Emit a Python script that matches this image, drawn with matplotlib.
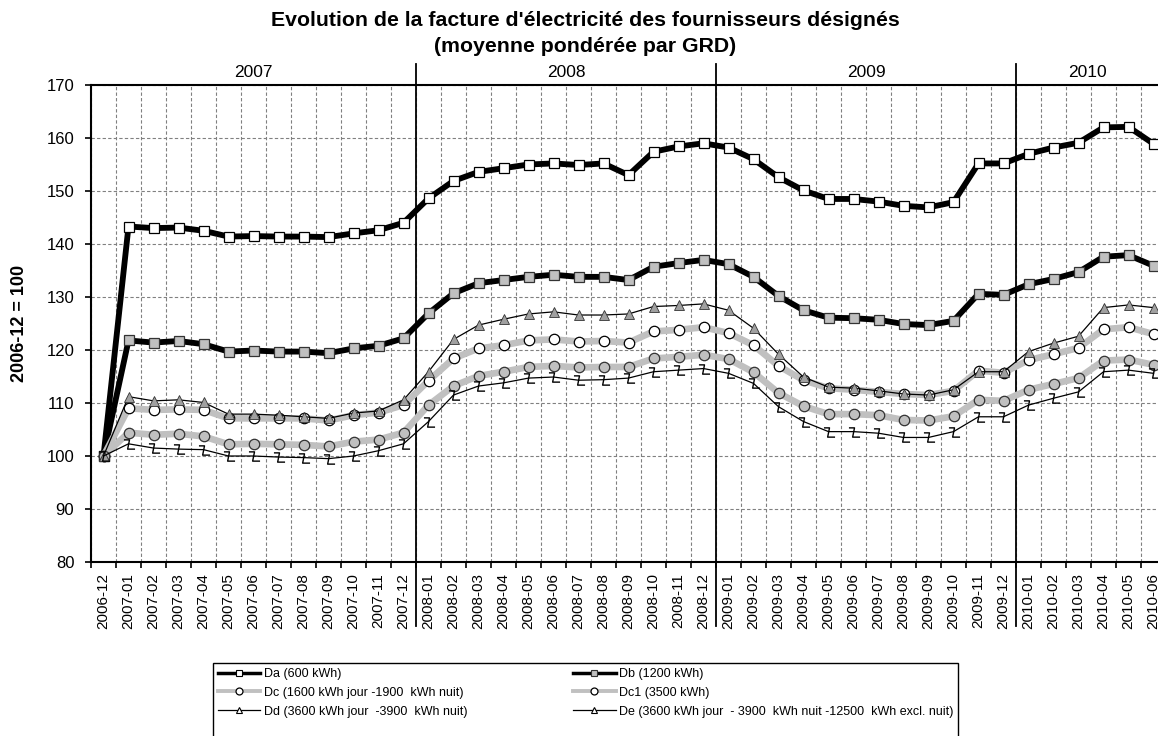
import matplotlib
matplotlib.use("Agg")
import matplotlib.pyplot as plt
import numpy as np
from matplotlib.lines import Line2D
from matplotlib.patches import Rectangle
from matplotlib.path import Path
from matplotlib.transforms import blended_transform_factory

plt.rcParams['font.family'] = ['Liberation Sans', 'DejaVu Sans']

# categories (month labels)
months = ['2006-12',
          '2007-01', '2007-02', '2007-03', '2007-04', '2007-05', '2007-06',
          '2007-07', '2007-08', '2007-09', '2007-10', '2007-11', '2007-12',
          '2008-01', '2008-02', '2008-03', '2008-04', '2008-05', '2008-06',
          '2008-07', '2008-08', '2008-09', '2008-10', '2008-11', '2008-12',
          '2009-01', '2009-02', '2009-03', '2009-04', '2009-05', '2009-06',
          '2009-07', '2009-08', '2009-09', '2009-10', '2009-11', '2009-12',
          '2010-01', '2010-02', '2010-03', '2010-04', '2010-05', '2010-06']
years = ['2007', '2008', '2009', '2010']

# index 2006-12 = 100
Da = [100, 143.3, 143.0, 143.1, 142.5, 141.4, 141.5, 141.4, 141.4, 141.3, 142.0, 142.6, 144.0,
      148.6, 151.9, 153.6, 154.3, 155.0, 155.2, 154.9, 155.2, 153.0, 157.4, 158.4, 159.0,
      158.2, 156.0, 152.6, 150.1, 148.5, 148.5, 148.0, 147.2, 146.9, 147.9, 155.2, 155.2,
      157.0, 158.2, 159.1, 162.0, 162.1, 158.9]
Db = [100, 121.8, 121.4, 121.7, 121.1, 119.7, 119.9, 119.7, 119.7, 119.4, 120.3, 120.8, 122.2,
      126.9, 130.7, 132.6, 133.2, 133.8, 134.2, 133.8, 133.8, 133.2, 135.7, 136.4, 137.0,
      136.2, 133.8, 130.2, 127.5, 126.1, 126.0, 125.7, 124.9, 124.7, 125.5, 130.6, 130.4,
      132.4, 133.4, 134.7, 137.6, 137.9, 135.9]
Dc = [100, 109.0, 108.7, 108.8, 108.7, 107.1, 107.1, 107.1, 107.1, 106.7, 107.7, 108.2, 109.6,
      114.2, 118.4, 120.3, 120.9, 121.8, 122.0, 121.6, 121.7, 121.4, 123.5, 123.8, 124.3,
      123.2, 120.9, 117.0, 114.3, 112.8, 112.5, 112.1, 111.7, 111.5, 112.3, 116.1, 115.7,
      118.1, 119.2, 120.4, 123.9, 124.3, 123.0]
Dc1 = [100, 104.4, 104.0, 104.2, 103.7, 102.2, 102.3, 102.2, 102.1, 101.8, 102.7, 103.1, 104.4,
       109.6, 113.2, 115.1, 115.9, 116.8, 117.0, 116.7, 116.8, 116.8, 118.4, 118.7, 119.1,
       118.3, 115.8, 111.9, 109.4, 107.9, 107.9, 107.7, 106.8, 106.7, 107.5, 110.6, 110.4,
       112.5, 113.6, 114.7, 118.0, 118.2, 117.2]
Dd = [100, 111.2, 110.4, 110.6, 110.1, 107.9, 107.9, 107.7, 107.4, 107.1, 108.1, 108.5, 110.6,
      115.9, 122.0, 124.7, 125.8, 126.8, 127.2, 126.6, 126.6, 126.8, 128.2, 128.4, 128.7,
      127.5, 124.1, 119.2, 114.9, 113.0, 112.8, 112.3, 111.7, 111.5, 112.5, 115.9, 115.9,
      119.7, 121.3, 122.6, 128.0, 128.5, 128.0]
De = [100, 102.3, 101.5, 101.3, 101.2, 100.0, 100.0, 99.8, 99.7, 99.5, 100.0, 101.0, 102.3,
      106.5, 111.5, 113.2, 113.8, 114.7, 114.9, 114.3, 114.4, 114.7, 115.9, 116.2, 116.5,
      115.6, 113.7, 109.3, 106.5, 104.6, 104.6, 104.3, 103.5, 103.5, 104.6, 107.4, 107.4,
      109.6, 110.9, 112.1, 115.9, 116.2, 115.6]

labels = ['Da (600 kWh)', 'Db (1200 kWh)',
          'Dc (1600 kWh jour -1900  kWh nuit)', 'Dc1 (3500 kWh)',
          'Dd (3600 kWh jour  -3900  kWh nuit)',
          'De (3600 kWh jour  - 3900  kWh nuit -12500  kWh excl. nuit)']

# z-like marker for the last series
zmark = Path([(-0.6, 0.5), (0.0, 0.5), (-0.2, -0.5), (0.6, -0.5)],
             [Path.MOVETO, Path.LINETO, Path.LINETO, Path.LINETO])

fig = plt.figure(figsize=(11.58, 7.36), dpi=100)
# plot area runs past the right edge of the image, as in the reference
ax = fig.add_axes([91 / 1158, 1 - 562 / 736, 1075 / 1158, 477 / 736])

x = np.arange(len(months))
grey = '#c0c0c0'
styles = [
    dict(color='black', lw=4.2, marker='s', ms=7.5, mfc='white', mec='black', mew=0.9),
    dict(color='black', lw=4.2, marker='s', ms=7.5, mfc=grey, mec='#333333', mew=0.9),
    dict(color=grey, lw=4.8, marker='o', ms=7.5, mfc='white', mec='black', mew=0.9),
    dict(color=grey, lw=4.8, marker='o', ms=7.5, mfc=grey, mec='#333333', mew=0.9),
    dict(color='black', lw=0.9, marker='^', ms=7, mfc='#a0a0a0', mec='#333333', mew=0.6),
    dict(color='black', lw=0.9, marker=zmark, ms=8, mfc='none', mec='black', mew=1.0),
]
for series, st in zip([Da, Db, Dc, Dc1, Dd, De], styles):
    ax.plot(x, series, zorder=4, **st)

ax.set_xlim(-0.5, len(months) - 0.5)
ax.set_ylim(80, 170)
ax.set_yticks(np.arange(80, 171, 10))
ax.set_xticks(x)
ax.set_xticklabels(months, rotation=90)
ax.set_xticks(np.arange(-0.5, len(months)), minor=True)
ax.tick_params(axis='x', which='major', length=0, pad=8, labelsize=11)
ax.tick_params(axis='x', which='minor', length=4, width=1.2, direction='out')
ax.tick_params(axis='y', length=4, width=1.2, pad=8, labelsize=12)

ax.grid(True, axis='x', which='minor', color='#808080', lw=0.8, ls=(0, (3, 2)), zorder=0)
ax.grid(True, axis='y', which='major', color='#808080', lw=0.8, ls=(0, (3, 2)), zorder=0)
ax.set_axisbelow(True)
for s in ['left', 'bottom', 'top']:
    ax.spines[s].set_linewidth(1.5)
ax.spines['right'].set_visible(False)

# year separators and labels
trans = blended_transform_factory(ax.transData, ax.transAxes)
starts = [i for i, m in enumerate(months) if m.endswith('-01')]
xl0, xl1 = ax.get_xlim()
pos = ax.get_position()
vis_right = xl0 + (1 - pos.x0) / pos.width * (xl1 - xl0)
bounds = [xl0] + [s - 0.5 for s in starts[1:]] + [vis_right]
for b in bounds[1:-1]:
    ax.plot([b, b], [-0.135, 1.045], color='black', lw=1.3, transform=trans,
            clip_on=False, zorder=3)
for yr, a, b in zip(years, bounds[:-1], bounds[1:]):
    ax.text((a + b) / 2, 1.017, yr, transform=trans, ha='center', va='baseline',
            fontsize=12.5)

fig.text(585 / 1158, 1 - 11 / 736,
         "Evolution de la facture d'électricité des fournisseurs désignés\n(moyenne pondérée par GRD)",
         ha='center', va='top', fontsize=15.3, fontweight='bold', linespacing=1.45)
fig.text(20 / 1158, 1 - 323 / 736, '2006-12 = 100', rotation=90, ha='center', va='center',
         fontsize=13, fontweight='bold')

# legend (row-wise order in two columns); frame runs past the bottom edge
leg_styles = [
    dict(color='black', lw=2.5, marker='s', ms=5, mfc='white', mec='black', mew=0.8),
    dict(color='black', lw=2.5, marker='s', ms=5, mfc=grey, mec='#333333', mew=0.8),
    dict(color=grey, lw=2.8, marker='o', ms=5, mfc='white', mec='black', mew=0.9),
    dict(color=grey, lw=2.8, marker='o', ms=5, mfc='white', mec='black', mew=0.9),
    dict(color='black', lw=0.9, marker='^', ms=5, mfc='white', mec='black', mew=0.8),
    dict(color='black', lw=0.9, marker='^', ms=5, mfc='white', mec='black', mew=0.8),
]
handles = [Line2D([], [], **st) for st in leg_styles]
order = [0, 2, 4, 1, 3, 5]
leg = fig.legend([handles[i] for i in order], [labels[i] for i in order],
                 loc='upper left', ncol=2, mode='expand',
                 bbox_to_anchor=(213 / 1158, -0.1, 745 / 1158, 0.1 + 1 - 663 / 736),
                 fontsize=9, frameon=False, handlelength=3.4, handletextpad=0.25,
                 labelspacing=0.55, borderpad=0.4, borderaxespad=0)
fig.patches.append(Rectangle((213 / 1158, -0.05), 745 / 1158, 0.05 + 1 - 663 / 736,
                             transform=fig.transFigure, fill=False, edgecolor='black',
                             lw=1.0, clip_on=False))

fig.savefig('out.png', dpi=100)
